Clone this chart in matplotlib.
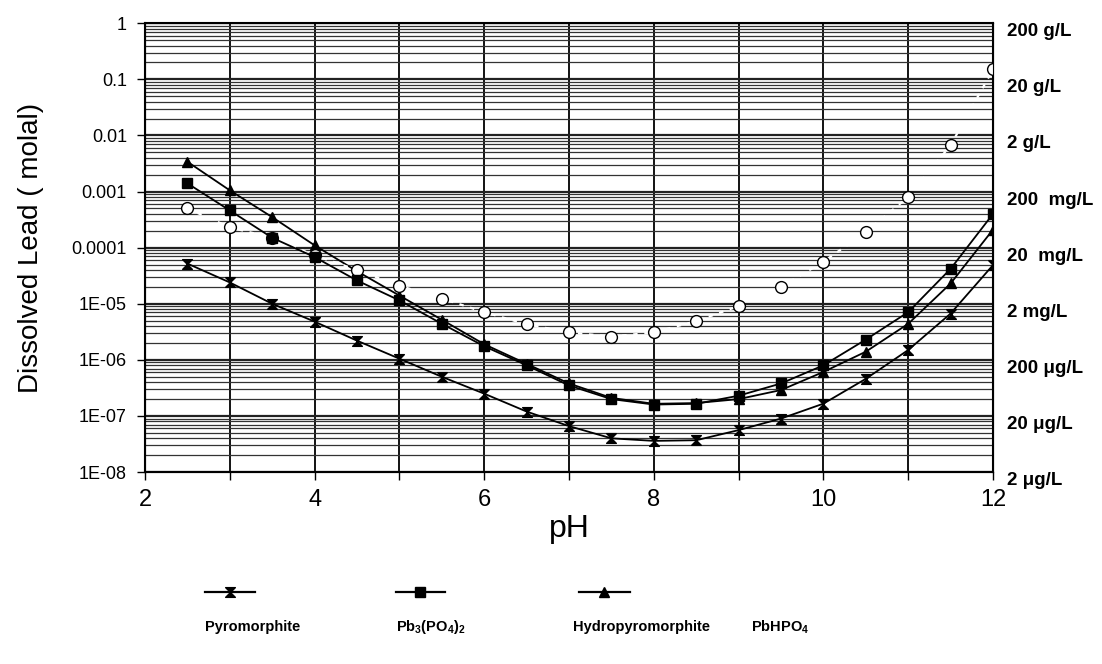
import matplotlib
matplotlib.use("Agg")
import matplotlib.pyplot as plt
import numpy as np
from matplotlib.lines import Line2D
from matplotlib.path import Path
from matplotlib.ticker import FixedLocator, LogLocator, NullFormatter

plt.rcParams['font.family'] = ['Liberation Sans', 'DejaVu Sans']
plt.rcParams['mathtext.default'] = 'regular'

ph = [2.5, 3, 3.5, 4, 4.5, 5, 5.5, 6, 6.5, 7, 7.5, 8, 8.5, 9, 9.5, 10, 10.5, 11, 11.5, 12]

pyromorphite = [5.2e-5, 2.4e-5, 1.0e-5, 4.8e-6, 2.2e-6, 1.05e-6, 5.0e-7, 2.5e-7, 1.2e-7, 6.6e-8,
                4.0e-8, 3.6e-8, 3.7e-8, 5.6e-8, 9.0e-8, 1.66e-7, 4.6e-7, 1.5e-6, 6.7e-6, 4.9e-5]
pb3po42 = [1.4e-3, 4.6e-4, 1.5e-4, 6.8e-5, 2.6e-5, 1.15e-5, 4.4e-6, 1.75e-6, 8.0e-7, 3.5e-7,
           2.0e-7, 1.6e-7, 1.65e-7, 2.3e-7, 3.8e-7, 8.0e-7, 2.3e-6, 7.1e-6, 4.2e-5, 4.0e-4]
hydropyromorphite = [3.4e-3, 1.05e-3, 3.5e-4, 1.1e-4, 3.8e-5, 1.4e-5, 5.2e-6, 1.9e-6, 8.5e-7, 3.8e-7,
                     2.1e-7, 1.65e-7, 1.7e-7, 2.0e-7, 2.9e-7, 6.1e-7, 1.4e-6, 4.4e-6, 2.3e-5, 2.1e-4]
pbhpo4 = [5.0e-4, 2.3e-4, 1.5e-4, 7.3e-5, 4.0e-5, 2.1e-5, 1.24e-5, 7.1e-6, 4.3e-6, 3.1e-6,
          2.6e-6, 3.1e-6, 4.9e-6, 9.1e-6, 2.0e-5, 5.6e-5, 1.9e-4, 8.0e-4, 6.7e-3, 0.15]

left_ticks = [1, 0.1, 0.01, 0.001, 0.0001, 1e-5, 1e-6, 1e-7, 1e-8]
left_labels = ['1', '0.1', '0.01', '0.001', '0.0001', '1E-05', '1E-06', '1E-07', '1E-08']
right_labels = ['200 g/L', '20 g/L', '2 g/L', '200  mg/L', '20  mg/L', '2 mg/L',
                '200 \u03bcg/L', '20 \u03bcg/L', '2 \u03bcg/L']

# hourglass marker for pyromorphite
hourglass = Path([(-1, 1), (1, 1), (-1, -1), (1, -1), (-1, 1)],
                 [Path.MOVETO, Path.LINETO, Path.LINETO, Path.LINETO, Path.CLOSEPOLY])

fig = plt.figure(figsize=(11.02, 6.64), dpi=100)
ax = fig.add_axes([0.1316, 0.289, 0.7695, 0.676])

ax.set_yscale('log')
ax.set_xlim(2, 12)
ax.set_ylim(1e-8, 1)

# grid
ax.yaxis.set_major_locator(FixedLocator(left_ticks))
ax.yaxis.set_minor_locator(LogLocator(base=10, subs=np.arange(2, 10), numticks=20))
ax.yaxis.set_minor_formatter(NullFormatter())
ax.set_yticklabels(left_labels)
ax.xaxis.set_major_locator(FixedLocator([2, 4, 6, 8, 10, 12]))
ax.xaxis.set_minor_locator(FixedLocator([3, 5, 7, 9, 11]))
ax.grid(True, which='major', axis='y', color='#222222', linewidth=1.6, zorder=0)
ax.grid(True, which='minor', axis='y', color='#333333', linewidth=0.9, zorder=0)
ax.grid(True, which='both', axis='x', color='black', linewidth=1.3, zorder=0)
ax.set_axisbelow(True)

ax.tick_params(axis='y', which='major', direction='out', length=6, width=1, labelsize=13, pad=7)
ax.tick_params(axis='y', which='minor', length=0)
ax.tick_params(axis='x', which='both', direction='out', length=6, width=1, labelsize=17, pad=6)
for s in ax.spines.values():
    s.set_linewidth(1.5)
    s.set_color('black')

ax.plot(ph, hydropyromorphite, color='black', linewidth=1.3, marker='^', markersize=7.5,
        markerfacecolor='black', markeredgecolor='black', zorder=3)
ax.plot(ph, pbhpo4, color='white', linestyle=(0, (2, 3)), linewidth=1.6,
        marker='o', markersize=8.5, markerfacecolor='white', markeredgecolor='black',
        markeredgewidth=1.0, zorder=4)
ax.plot(ph, pb3po42, color='black', linewidth=1.3, marker='s', markersize=7.5,
        markerfacecolor='black', markeredgecolor='black', zorder=5)
ax.plot(ph, pyromorphite, color='black', linewidth=1.3, marker=hourglass, markersize=7,
        markerfacecolor='black', markeredgecolor='black', zorder=5)

ax.set_xlabel('pH', fontsize=23, labelpad=2)
ax.set_ylabel('Dissolved Lead ( molal)', fontsize=20, labelpad=20)

# right-hand concentration labels
ax2 = ax.twinx()
ax2.set_yscale('log')
ax2.set_ylim(1e-8, 1)
ax2.yaxis.set_major_locator(FixedLocator(left_ticks))
ax2.yaxis.set_minor_locator(FixedLocator([]))
ax2.set_yticklabels(right_labels)
ax2.tick_params(axis='y', length=0, labelsize=13.5, pad=10)
for lab in ax2.get_yticklabels():
    lab.set_fontweight('bold')
    lab.set_va('top')

# legend below the plot: sample line above, name below
legend_items = [
    ('Pyromorphite', hourglass, 7, 0.186, 0.231, 0.229),
    ('Pb$_3$(PO$_4$)$_2$', 's', 7.5, 0.359, 0.404, 0.391),
    ('Hydropyromorphite', '^', 7.5, 0.525, 0.572, 0.582),
    ('PbHPO$_4$', None, 0, 0.0, 0.0, 0.708),
]
for name, mk, ms, x0, x1, xt in legend_items:
    if mk is not None:
        fig.add_artist(Line2D([x0, x1], [0.108, 0.108], color='black', linewidth=1.6))
        fig.add_artist(Line2D([(x0 + x1) / 2], [0.108], marker=mk, markersize=ms,
                              color='black', linestyle='none'))
    fig.text(xt, 0.055, name, ha='center', va='center', fontsize=10.5, fontweight='bold')

fig.savefig('out.png', dpi=100)
